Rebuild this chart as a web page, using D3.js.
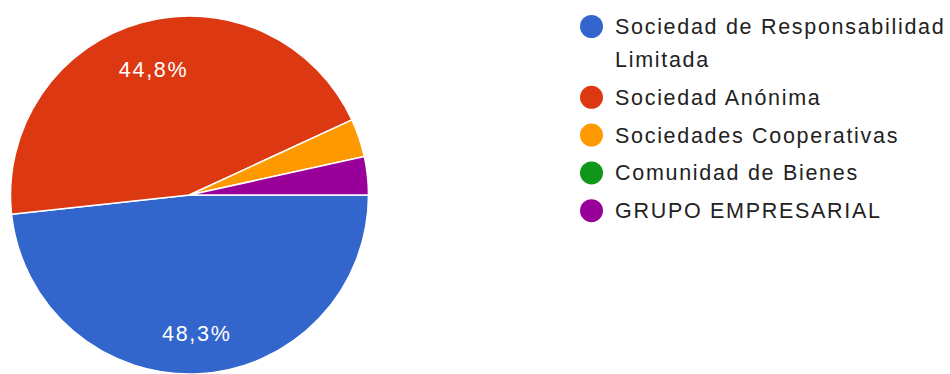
<!DOCTYPE html>
<html>
<head>
<meta charset="utf-8">
<script src="https://cdn.jsdelivr.net/npm/d3@7"></script>
<style>
  html, body { margin: 0; padding: 0; background: #ffffff; }
  svg { display: block; }
  text { font-family: "Liberation Sans", Arial, sans-serif; }
</style>
</head>
<body>
<svg id="chart" width="950" height="374"></svg>
<script>
// Tipo de empresa (número de respuestas)
const categories = [
  "Sociedad de Responsabilidad Limitada",
  "Sociedad Anónima",
  "Sociedades Cooperativas",
  "Comunidad de Bienes",
  "GRUPO EMPRESARIAL"
];
const counts = [14, 13, 1, 0, 1];
const colors = ["#3366cc", "#dc3912", "#ff9900", "#109618", "#990099"];

const width = 950, height = 374;
const cx = 189.5, cy = 195, radius = 179;
const fontSize = 21.5, letterSpacing = 1.7;

const svg = d3.select("#chart");
const total = d3.sum(counts);
const color = d3.scaleOrdinal().domain(categories).range(colors);
const fmt = v => (v * 100).toFixed(1).replace(".", ",") + "%";

const data = categories.map((c, i) => ({ name: c, value: counts[i] }));

// Slices run clockwise starting from the 3 o'clock position
const pie = d3.pie()
  .sort(null)
  .value(d => d.value)
  .startAngle(Math.PI / 2)
  .endAngle(Math.PI / 2 + 2 * Math.PI);

const arcs = pie(data).filter(a => a.data.value > 0);
const arc = d3.arc().innerRadius(0).outerRadius(radius);
const labelArc = d3.arc().innerRadius(radius * 0.75).outerRadius(radius * 0.75);

const g = svg.append("g").attr("transform", `translate(${cx},${cy})`);

g.selectAll("path.slice")
  .data(arcs)
  .join("path")
  .attr("class", "slice")
  .attr("d", arc)
  .attr("fill", d => color(d.data.name))
  .attr("stroke", "#ffffff")
  .attr("stroke-width", 1.5)
  .attr("stroke-linejoin", "round");

// Percentage labels on slices large enough to hold them
g.selectAll("text.pct")
  .data(arcs.filter(a => a.data.value / total > 0.05))
  .join("text")
  .attr("class", "pct")
  .attr("transform", d => `translate(${labelArc.centroid(d)})`)
  .attr("text-anchor", "middle")
  .attr("dy", "0.55em")
  .attr("fill", "#ffffff")
  .style("font-size", fontSize + "px")
  .style("letter-spacing", letterSpacing + "px")
  .text(d => fmt(d.data.value / total));

// Legend
const legendX = 591.5, legendY = 26.5, entryGap = 37.8, wrapH = 33;
const textX = 615, maxTextW = 334;
const legend = svg.append("g");
let y = legendY;
data.forEach(d => {
  legend.append("circle")
    .attr("cx", legendX)
    .attr("cy", y)
    .attr("r", 11.5)
    .attr("fill", color(d.name));

  const t = legend.append("text")
    .attr("x", textX)
    .attr("y", y + 7.5)
    .attr("fill", "#222222")
    .style("font-size", fontSize + "px")
    .style("letter-spacing", letterSpacing + "px");

  // wrap words onto extra lines when wider than the legend column
  const words = d.name.split(" ");
  let line = [];
  let tspan = t.append("tspan").attr("x", textX);
  let extra = 0;
  words.forEach(w => {
    line.push(w);
    tspan.text(line.join(" "));
    if (tspan.node().getComputedTextLength() > maxTextW && line.length > 1) {
      line.pop();
      tspan.text(line.join(" "));
      line = [w];
      tspan = t.append("tspan").attr("x", textX).attr("dy", wrapH).text(w);
      extra++;
    }
  });
  y += entryGap + extra * wrapH;
});
</script>
</body>
</html>
